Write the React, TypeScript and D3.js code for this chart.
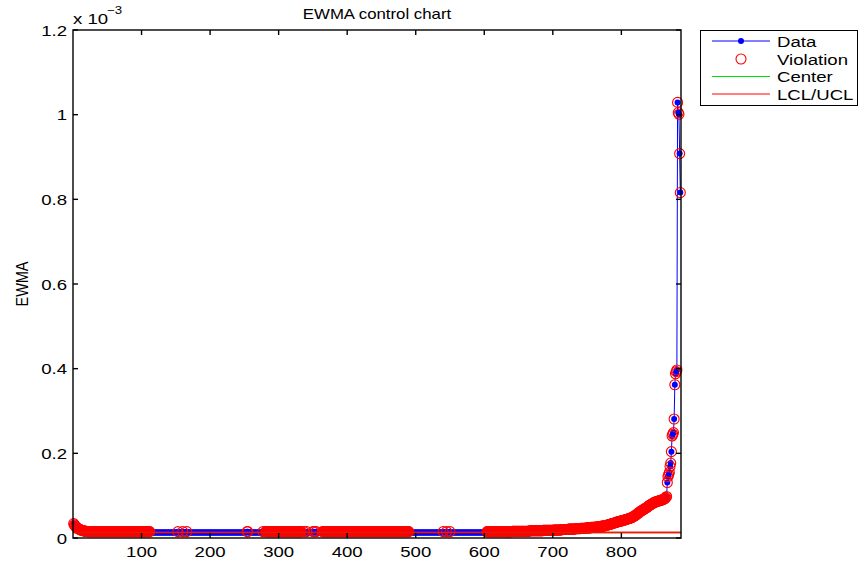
// @ts-nocheck
import React, { useRef, useEffect } from 'react';
import * as d3 from 'd3';

const WIDTH = 859;
const HEIGHT = 564;

// EWMA values in units of 1e-6, points 1..30
const startValues = [34, 31, 29, 27, 25, 24, 23, 22, 21, 20, 19, 19, 18, 18, 17, 17, 16, 16, 16, 16,
  15, 15, 15, 15, 15, 15, 15, 15, 15, 15];

// [value, count] runs, points 31..779
const flatRuns = [
  [15, 82], [13, 40], [15, 1], [13, 6], [15, 1], [13, 5], [15, 1], [13, 87], [15, 2], [13, 21],
  [15, 1], [13, 3], [15, 53], [13, 3], [15, 1], [13, 3], [15, 1], [13, 8], [15, 1], [13, 1],
  [15, 1], [13, 2], [15, 1], [13, 8], [15, 127], [13, 49], [15, 1], [13, 4], [15, 1], [13, 4],
  [15, 1], [13, 53],
  [15, 37], [16, 25], [17, 20], [18, 15], [19, 12], [20, 10], [21, 10], [22, 8], [23, 8], [24, 7],
  [25, 6], [26, 5], [27, 4], [28, 4], [29, 3], [30, 2],
];

// points 780..886
const tailValues = [
  31, 31, 32, 32, 33, 33, 34, 34, 35, 35,
  36, 36, 37, 37, 38, 38, 39, 39, 40, 40,
  40, 41, 41, 42, 42, 43, 43, 44, 44, 45,
  45, 46, 46, 47, 48, 48, 49, 50, 51, 52,
  53, 54, 55, 57, 58, 59, 60, 62, 63, 64,
  65, 66, 67, 68, 69, 70, 71, 72, 73, 75,
  76, 77, 78, 79, 80, 81, 82, 83, 84, 85,
  85, 86, 86, 87, 87, 88, 88, 89,
  89, 90, 90, 91, 92, 93, 94, 96, 98,
  131, 145, 150, 155, 169, 177, 204, 241, 245, 249, 281, 362, 388, 393, 397, 1029, 1005, 1001, 908, 816,
];

const centerValue = 13;
const lclValue = 12;
const uclValue = 14;

const xTicks = [100, 200, 300, 400, 500, 600, 700, 800];
const yTicks = [0, 0.2, 0.4, 0.6, 0.8, 1, 1.2];
const yTickLabels = ['0', '0.2', '0.4', '0.6', '0.8', '1', '1.2'];
const legendLabels = ['Data', 'Violation', 'Center', 'LCL/UCL'];

const FONT = '"Liberation Sans", Arial, Helvetica, sans-serif';
const SX = 1.2; // text in the picture is a bit wide

const App = () => {
  const svgRef = useRef(null);

  useEffect(() => {
    const svg = d3.select(svgRef.current);
    svg.selectAll('*').remove();

    const raw = [...startValues];
    flatRuns.forEach(([v, n]) => { for (let i = 0; i < n; i++) raw.push(v); });
    raw.push(...tailValues);
    const data = raw.map((v, i) => ({ x: i + 1, y: v * 1e-6 }));
    const ucl = uclValue * 1e-6;

    const left = 73, right = 681, top = 30, bottom = 538;
    const x = d3.scaleLinear().domain([0, 887]).range([left, right]);
    const y = d3.scaleLinear().domain([0, 1.2e-3]).range([bottom, top]);

    const text = (g, str, tx, ty, size, anchor = 'start', extra = '') =>
      g.append('text')
        .attr('transform', `translate(${tx},${ty}) scale(${SX},1)${extra}`)
        .attr('text-anchor', anchor)
        .attr('font-family', FONT)
        .attr('font-size', size)
        .attr('fill', '#000')
        .text(str);

    svg.append('rect').attr('width', WIDTH).attr('height', HEIGHT).attr('fill', '#fff');

    // data line + dots
    const line = d3.line().x(d => x(d.x)).y(d => y(d.y));
    svg.append('path').datum(data).attr('d', line)
      .attr('fill', 'none').attr('stroke', '#0000ff').attr('stroke-width', 1);
    svg.append('g').selectAll('circle').data(data).enter().append('circle')
      .attr('cx', d => x(d.x)).attr('cy', d => y(d.y)).attr('r', 3).attr('fill', '#0000ff');

    // violations
    svg.append('g').selectAll('circle').data(data.filter(d => d.y > ucl)).enter().append('circle')
      .attr('cx', d => x(d.x)).attr('cy', d => y(d.y)).attr('r', 5)
      .attr('fill', 'none').attr('stroke', '#ff0000').attr('stroke-width', 1.1);

    // center and limits
    svg.append('line').attr('x1', left).attr('x2', right)
      .attr('y1', y(centerValue * 1e-6)).attr('y2', y(centerValue * 1e-6))
      .attr('stroke', '#00dd00').attr('stroke-width', 1);
    [lclValue, uclValue].forEach(v => {
      svg.append('line').attr('x1', left).attr('x2', right)
        .attr('y1', y(v * 1e-6)).attr('y2', y(v * 1e-6))
        .attr('stroke', '#ff0000').attr('stroke-width', 1);
    });

    // axes box and inward ticks
    const axes = svg.append('g').attr('stroke', '#000').attr('stroke-width', 1.4);
    axes.append('rect').attr('x', left).attr('y', top).attr('width', right - left).attr('height', bottom - top)
      .attr('fill', 'none');
    xTicks.forEach(t => {
      axes.append('line').attr('x1', x(t)).attr('x2', x(t)).attr('y1', bottom).attr('y2', bottom - 5);
      axes.append('line').attr('x1', x(t)).attr('x2', x(t)).attr('y1', top).attr('y2', top + 5);
    });
    yTicks.forEach(t => {
      axes.append('line').attr('x1', left).attr('x2', left + 5).attr('y1', y(t * 1e-3)).attr('y2', y(t * 1e-3));
      axes.append('line').attr('x1', right).attr('x2', right - 5).attr('y1', y(t * 1e-3)).attr('y2', y(t * 1e-3));
    });

    const labels = svg.append('g');
    xTicks.forEach(t => text(labels, String(t), x(t), 557, 15.5, 'middle'));
    yTicks.forEach((t, i) => text(labels, yTickLabels[i], 67, y(t * 1e-3) + 5.5, 15.5, 'end'));
    text(labels, 'x 10', 73, 24, 15.5);
    text(labels, '\u22123', 107, 14, 11);
    text(labels, 'EWMA control chart', 377, 19, 14, 'middle');
    text(labels, 'EWMA', 28, 284, 14.5, 'middle', ' rotate(-90)');

    // legend
    const lg = svg.append('g');
    lg.append('rect').attr('x', 700.5).attr('y', 30.5).attr('width', 157).attr('height', 75)
      .attr('fill', '#fff').attr('stroke', '#000').attr('stroke-width', 1);
    const rows = [41, 59, 76.5, 94];
    const x1 = 712, x2 = 770, mx = 741;
    lg.append('line').attr('x1', x1).attr('x2', x2).attr('y1', rows[0]).attr('y2', rows[0])
      .attr('stroke', '#0000ff').attr('stroke-width', 1);
    lg.append('circle').attr('cx', mx).attr('cy', rows[0]).attr('r', 3).attr('fill', '#0000ff');
    lg.append('circle').attr('cx', mx).attr('cy', rows[1]).attr('r', 5)
      .attr('fill', 'none').attr('stroke', '#ff0000').attr('stroke-width', 1.1);
    lg.append('line').attr('x1', x1).attr('x2', x2).attr('y1', rows[2]).attr('y2', rows[2])
      .attr('stroke', '#00dd00').attr('stroke-width', 1);
    lg.append('line').attr('x1', x1).attr('x2', x2).attr('y1', rows[3]).attr('y2', rows[3])
      .attr('stroke', '#ff0000').attr('stroke-width', 1);
    legendLabels.forEach((l, i) => text(lg, l, 777, rows[i] + 5.5, 15.5));
  }, []);

  return (
    <svg ref={svgRef} width={WIDTH} height={HEIGHT}
      style={{ position: 'absolute', left: 0, top: 0, display: 'block' }} />
  );
};

export default App;
